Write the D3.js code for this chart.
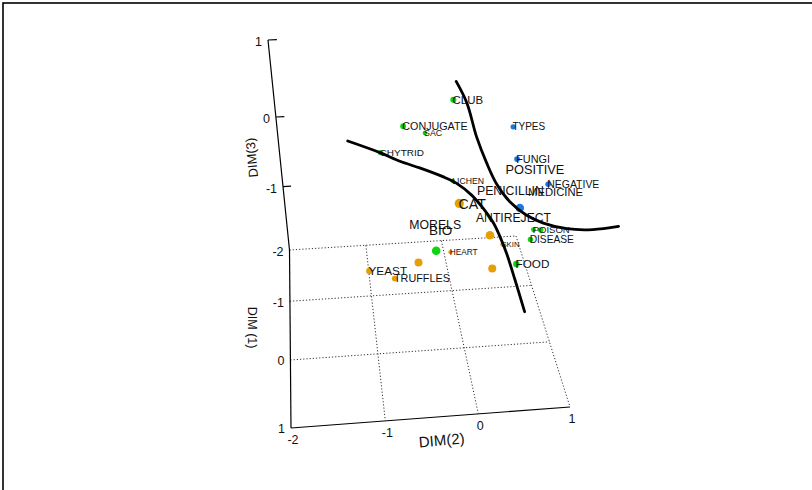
<!DOCTYPE html>
<html>
<head>
<meta charset="utf-8">
<style>
  body { margin: 0; background: #fff; }
  text { font-family: Arial, "Liberation Sans", sans-serif; fill: #111; }
  .grid { stroke: #333; stroke-width: 1; stroke-dasharray: 1.2,2; fill: none; }
  .axis { stroke: #000; stroke-width: 1.2; fill: none; }
  .curve { stroke: #000; stroke-width: 2.8; fill: none; stroke-linecap: round; }
</style>
</head>
<body>
<svg width="812" height="490"></svg>
<script src="https://cdn.jsdelivr.net/npm/d3@7"></script>
<script>
// **** data: 3D MDS coordinates (DIM(1), DIM(2), DIM(3)) ****
var words  = ['CLUB','CONJUGATE','SAC','CHYTRID','LICHEN','POISON','','DISEASE','FOOD','',
              'TYPES','FUNGI','NEGATIVE','',
              'CAT','','SKIN','HEART','','YEAST','TRUFFLES','',
              'POSITIVE','PENICILLIN','MEDICINE','ANTIREJECT','MORELS','BIO'];
var groups = ['g','g','g','g','g','g','g','g','g','g',
              'b','b','b','b',
              'o','o','o','o','o','o','o','o',
              null,null,null,null,null,null];
var dim1 = [-0.79,-1.07,-2.24,-1.37,-1.94,-0.97,-0.43,-0.50,0.39,1.01,
            -1.37,-0.69,-0.72,0.79,
            0.99,0.97,-2.09,-1.71,0.86,0.29,-0.07,0.96,
            0.29,0.16,-0.26,0.27,0.29,0.84];
var dim2 = [-0.06,-0.57,-0.19,-0.81,0.13,0.96,0.90,0.81,0.45,-0.47,
            0.73,0.64,1.02,0.35,
            -0.26,0.04,0.84,0.08,-0.62,-1.07,-0.78,0.08,
            0.31,0.06,0.69,0.04,-0.64,-0.51];
var dim3 = [0.81,0.35,-0.48,-0.17,-1.02,-1.11,-0.70,-0.88,-0.48,0.26,
            0.08,0.09,-0.29,0.53,
            0.77,0.37,-2.20,-1.97,0.01,-0.53,-0.96,-0.04,
            0.63,0.31,-0.05,0.05,0.03,0.37];

// boundary curves, [dim1, dim2, dim3]
var curveA = [[-0.94,-1.19,0.28],[-0.83,-0.85,0.18],[-0.76,-0.64,0.10],[-0.70,-0.43,0.04],
              [-0.62,-0.18,-0.04],[-0.57,-0.04,-0.10],[-0.48,0.11,-0.20],[-0.38,0.23,-0.32],
              [-0.28,0.33,-0.45],[-0.19,0.39,-0.57],[-0.08,0.45,-0.72],[0.09,0.52,-0.95],[0.30,0.60,-1.23]];
var curveB = [[-1.20,0.03,0.80],[-1.05,0.13,0.61],[-0.84,0.21,0.31],[-0.66,0.30,0.08],
              [-0.52,0.39,-0.10],[-0.40,0.52,-0.26],[-0.30,0.69,-0.38],[-0.23,0.87,-0.45],
              [-0.17,1.12,-0.50],[-0.14,1.40,-0.51],[-0.13,1.68,-0.48]];

var dim1Ticks = [-2,-1,0,1];
var dim2Ticks = [-2,-1,0,1];
var dim3Ticks = [-1,0,1];

var colors = {g: '#10d410', b: '#1b78e4', o: '#e69f00'};

// **** scales and perspective view ****
var s2 = d3.scaleLinear().domain([-2,1]).range([0,1]);
var s1 = d3.scaleLinear().domain([-2,1]).range([0,1]);
var s3 = d3.scaleLinear().domain([-2,1]).range([0,3]);

var view = [[235.49,-54.24,-19.35,289.5],
            [-9.891, 96.02,-71.82,250],
            [0.017413,-0.19154,-0.04545,1]];

function project(a, b, c) {
    var v = [s2(b), s1(a), s3(c), 1];
    var p = view.map(function(row){ return d3.sum(row, function(m,i){ return m*v[i]; }); });
    return [p[0]/p[2], p[1]/p[2], 1/p[2]];
}

var fontScale = d3.scaleLinear().domain([1,1.45]).range([8.2,14.3]);
var radiusScale = d3.scaleLinear().domain([0.95,1.25,1.45]).range([1.9,3.1,4.7]);

var svg = d3.select('svg');

svg.append('rect')
    .attr('x', 3).attr('y', 3).attr('width', 900).attr('height', 600)
    .attr('fill', 'none').attr('stroke', '#000').attr('stroke-width', 1.6);

// **** floor grid ****
function seg(a, b, cls) {
    svg.append('line').attr('class', cls)
        .attr('x1', a[0]).attr('y1', a[1]).attr('x2', b[0]).attr('y2', b[1]);
}
dim1Ticks.forEach(function(t){
    seg(project(t,-2,-2), project(t,1,-2), t === 1 ? 'axis' : 'grid');
});
dim2Ticks.forEach(function(t){
    seg(project(-2,t,-2), project(1,t,-2), t === -2 ? 'axis' : 'grid');
});

// vertical DIM(3) axis
seg(project(-2,-2,-2), project(-2,-2,1), 'axis');
dim3Ticks.forEach(function(t){
    seg(project(-2,-2,t), project(-2,-1.9,t), 'axis');
    var p = project(-2,-2,t);
    svg.append('text').attr('x', p[0]-6).attr('y', p[1]+2).attr('dy','0.36em')
        .attr('text-anchor','end').attr('font-size', 12.5).text(t);
});

dim1Ticks.forEach(function(t){
    var p = project(t,-2,-2);
    svg.append('text').attr('x', p[0]-6).attr('y', p[1]+1).attr('dy','0.36em')
        .attr('text-anchor','end').attr('font-size', 12.5).text(t);
});
dim2Ticks.forEach(function(t){
    var p = project(1,t,-2);
    svg.append('text').attr('x', p[0]+2).attr('y', p[1]+12).attr('dy','0.36em')
        .attr('text-anchor','middle').attr('font-size', 12.5).text(t);
});

// axis titles
var pt = project(1,-0.45,-2);
svg.append('text').attr('text-anchor','middle').attr('font-size', 15)
    .attr('transform','translate('+(pt[0]+5)+','+(pt[1]+23)+') rotate(-5)')
    .attr('dy','0.36em').text('DIM(2)');
pt = project(-2,-2,-0.5);
svg.append('text').attr('text-anchor','middle').attr('font-size', 13)
    .attr('transform','translate('+(pt[0]-28)+','+(pt[1]+5)+') rotate(-95)')
    .attr('dy','0.36em').text('DIM(3)');
pt = project(-0.5,-2,-2);
svg.append('text').attr('text-anchor','middle').attr('font-size', 12.5)
    .attr('transform','translate('+(pt[0]-38)+','+(pt[1]-2)+') rotate(90)')
    .attr('dy','0.36em').text('DIM (1)');

// **** points and labels ****
var pts = words.map(function(w,i){
    var p = project(dim1[i], dim2[i], dim3[i]);
    return {word: w, group: groups[i], x: p[0], y: p[1], k: p[2]};
});

svg.append('g').selectAll('circle')
    .data(pts.filter(function(d){ return d.group; }).sort(function(a,b){ return a.k - b.k; }))
    .enter().append('circle')
    .attr('cx', function(d){ return d.x; })
    .attr('cy', function(d){ return d.y; })
    .attr('r', function(d){ return radiusScale(d.k); })
    .attr('fill', function(d){ return colors[d.group]; });

svg.append('g').selectAll('text')
    .data(pts.filter(function(d){ return d.word; }))
    .enter().append('text')
    .attr('x', function(d){ return d.x - 0.8; })
    .attr('y', function(d){ return d.y; })
    .attr('dy', '0.36em')
    .attr('font-size', function(d){ return fontScale(d.k); })
    .text(function(d){ return d.word; });

// **** curves ****
var line = d3.line().curve(d3.curveCatmullRom);
[curveA, curveB].forEach(function(c){
    svg.append('path').attr('class','curve')
        .attr('d', line(c.map(function(p){ return project(p[0],p[1],p[2]).slice(0,2); })));
});
</script>
</body>
</html>
